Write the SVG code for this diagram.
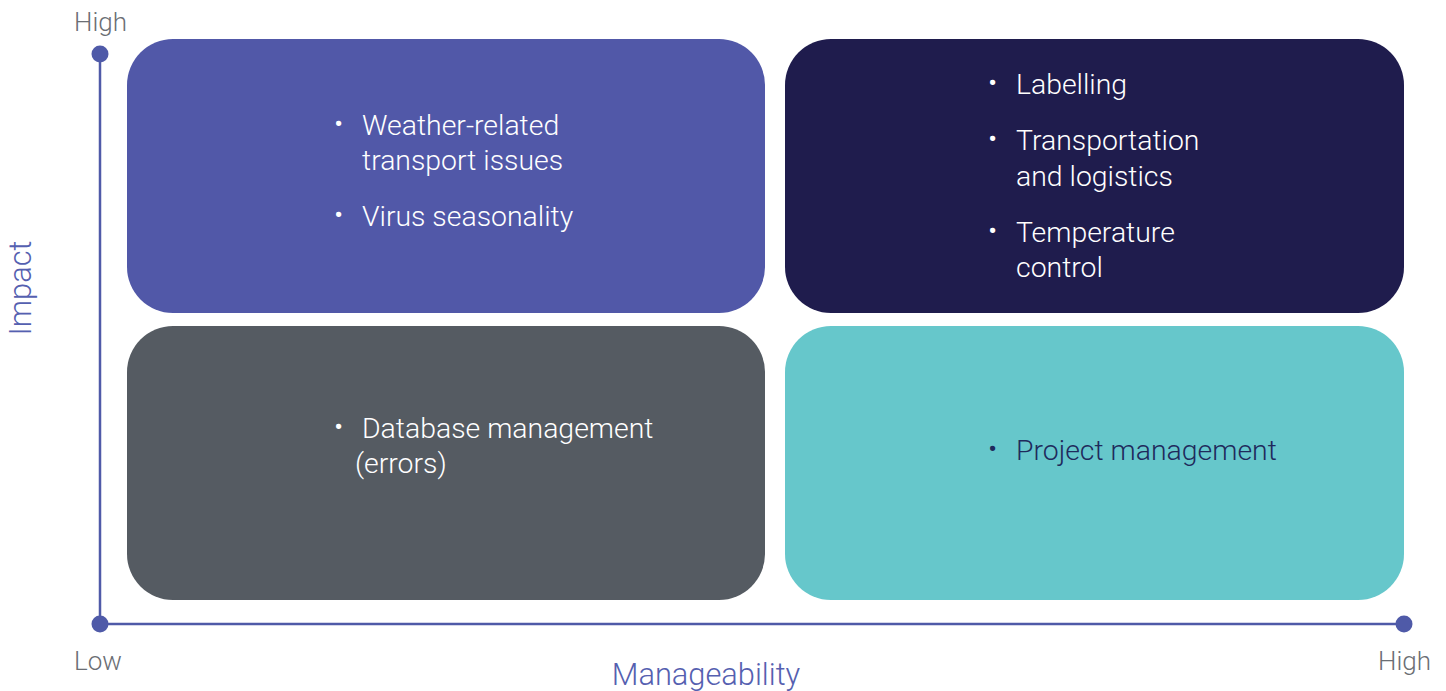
<svg xmlns="http://www.w3.org/2000/svg" width="1446" height="691" viewBox="0 0 1446 691">
  <style>
    .item { font-family: Roboto, "Liberation Sans", sans-serif; font-weight: 300; font-size: 28.4px; }
    .light { fill: #ffffff; }
    .dark { fill: #1f2a5c; }
    .tick { font-family: Roboto, "Liberation Sans", sans-serif; font-weight: 300; font-size: 26px; fill: #6b6e74; }
    .axis-title { font-family: Roboto, "Liberation Sans", sans-serif; font-weight: 300; font-size: 30.8px; fill: #5560b0; }
    .axis { stroke: #4f5aa8; stroke-width: 2.5; fill: none; }
    .dot { fill: #4f5aa8; }
  </style>
  <rect width="1446" height="691" fill="#ffffff"/>

  <!-- axes -->
  <g id="connectors">
    <line class="axis" x1="100" y1="54" x2="100" y2="624"/>
    <line class="axis" x1="100" y1="624" x2="1404" y2="624"/>
    <circle class="dot" cx="100" cy="54" r="8.5"/>
    <circle class="dot" cx="100" cy="624" r="8.5"/>
    <circle class="dot" cx="1404" cy="624" r="8.5"/>
  </g>

  <g id="axis-labels">
    <text class="tick" x="74" y="31">High</text>
    <text class="tick" x="74" y="670">Low</text>
    <text class="tick" x="1378" y="670">High</text>
    <text class="axis-title" transform="translate(31 288) rotate(-90)" text-anchor="middle">Impact</text>
    <text class="axis-title" x="706" y="685" text-anchor="middle">Manageability</text>
  </g>

  <!-- high impact, low manageability -->
  <g id="q-top-left">
    <rect x="127" y="39" width="638" height="274" rx="46" fill="#5158a8"/>
    <g class="item light">
      <text x="334" y="133">•</text>
      <text x="362" y="135">Weather-related</text>
      <text x="362" y="170">transport issues</text>
      <text x="334" y="224">•</text>
      <text x="362" y="226">Virus seasonality</text>
    </g>
  </g>

  <!-- high impact, high manageability -->
  <g id="q-top-right">
    <rect x="785" y="39" width="619" height="274" rx="46" fill="#1f1c4d"/>
    <g class="item light">
      <text x="988" y="92">•</text>
      <text x="1016" y="94">Labelling</text>
      <text x="988" y="148">•</text>
      <text x="1016" y="150">Transportation</text>
      <text x="1016" y="186">and logistics</text>
      <text x="988" y="240">•</text>
      <text x="1016" y="242">Temperature</text>
      <text x="1016" y="277">control</text>
    </g>
  </g>

  <!-- low impact, low manageability -->
  <g id="q-bottom-left">
    <rect x="127" y="326" width="638" height="274" rx="46" fill="#555b62"/>
    <g class="item light">
      <text x="334" y="436">•</text>
      <text x="362" y="438">Database management</text>
      <text x="355" y="473">(errors)</text>
    </g>
  </g>

  <!-- low impact, high manageability -->
  <g id="q-bottom-right">
    <rect x="785" y="326" width="619" height="274" rx="46" fill="#66c7cb"/>
    <g class="item dark">
      <text x="988" y="458">•</text>
      <text x="1016" y="460">Project management</text>
    </g>
  </g>
</svg>
